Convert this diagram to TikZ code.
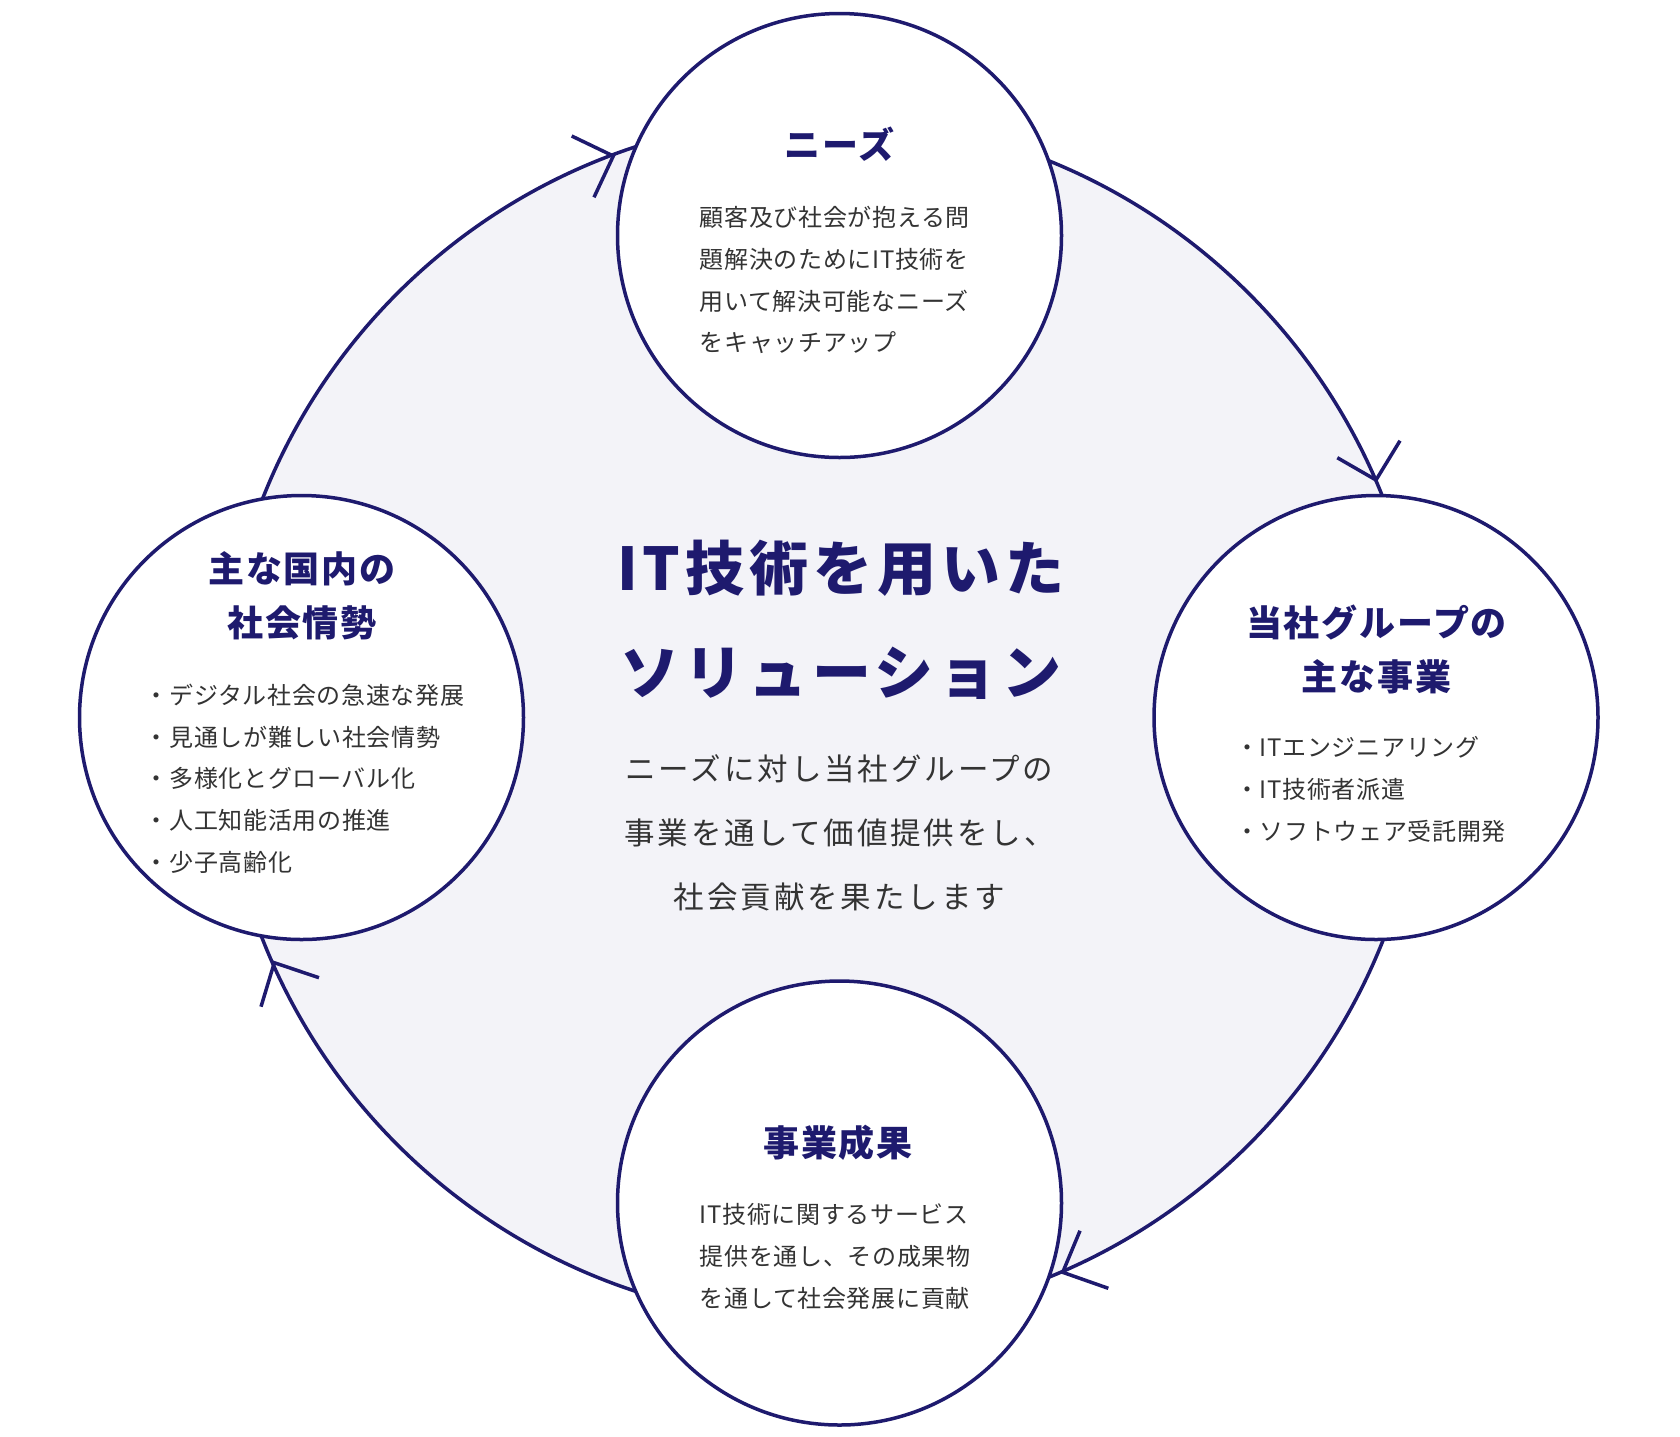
\documentclass[tikz,border=0pt]{standalone}
\usepackage{fontspec}
\setmainfont{Noto Sans CJK JP}
\definecolor{navy}{HTML}{1E1A6E}
\definecolor{ringfill}{HTML}{F3F3F8}
\definecolor{txt}{HTML}{333333}
\begin{document}
\begin{tikzpicture}[x=1pt,y=-1pt,
  bubble/.style={circle, draw=navy, line width=3.5pt, fill=white, minimum size=444pt, inner sep=0pt},
  ringstyle/.style={circle, draw=navy, line width=3.5pt, fill=ringfill, minimum size=1204pt, inner sep=0pt},
  barb/.style={draw=navy, line width=3.5pt, line join=miter},
  headA/.style={text=navy, inner sep=0pt, align=center, font=\bfseries\fontsize{36}{53.8}\selectfont\addfontfeature{LetterSpace=5}},
  bodyA/.style={text=txt, inner sep=0pt, align=left, font=\fontsize{24}{41.9}\selectfont\addfontfeature{LetterSpace=2.8}},
  bigtitle/.style={text=navy, inner sep=0pt, align=center, font=\bfseries\fontsize{59}{104}\selectfont\addfontfeature{LetterSpace=8.5}},
  subtitle/.style={text=txt, inner sep=0pt, align=center, font=\fontsize{30.5}{64}\selectfont\addfontfeature{LetterSpace=9.5}}
]
\useasboundingbox (0,0) rectangle (1680,1436);
\fill[white] (0,0) rectangle (1680,1436);

% big ring
\node[ringstyle] (ring) at (823,719) {};

% arrows on the ring
\coordinate (tipTL) at (613.3,156);
\coordinate (bTL1) at (571.7,136);
\coordinate (bTL2) at (594,197.3);
\coordinate (tipTR) at (1376,480);
\coordinate (bTR1) at (1337.3,457.7);
\coordinate (bTR2) at (1400,440.7);
\coordinate (tipBR) at (1062.7,1272.3);
\coordinate (bBR1) at (1108.3,1288.3);
\coordinate (bBR2) at (1080,1230.7);
\coordinate (tipBL) at (274.3,962.7);
\coordinate (bBL1) at (319,977.7);
\coordinate (bBL2) at (261,1006.7);
\draw[barb] (bTL1) -- (tipTL) -- (bTL2);
\draw[barb] (bTR1) -- (tipTR) -- (bTR2);
\draw[barb] (bBR1) -- (tipBR) -- (bBR2);
\draw[barb] (bBL1) -- (tipBL) -- (bBL2);

% four circles
\node[bubble] (needs) at (839.5,235.5) {};
\node[bubble] (society) at (301.5,717.5) {};
\node[bubble] (business) at (1376,717.5) {};
\node[bubble] (result) at (839.5,1203) {};

% top
\node[headA] (needsT) at (839.5,144) {ニーズ};
\node[bodyA, anchor=west] (needsB) at (699.5,280) {顧客及び社会が抱える問\\題解決のためにIT技術を\\用いて解決可能なニーズ\\をキャッチアップ};

% left
\node[headA] (societyT) at (302,595.75) {主な国内の\\社会情勢};
\node[bodyA, anchor=west] (societyB) at (144.5,778.7) {・デジタル社会の急速な発展\\・見通しが難しい社会情勢\\・多様化とグローバル化\\・人工知能活用の推進\\・少子高齢化};

% right
\node[headA] (businessT) at (1376.5,649.6) {当社グループの\\主な事業};
\node[bodyA, anchor=west] (businessB) at (1235,789.5) {・ITエンジニアリング\\・IT技術者派遣\\・ソフトウェア受託開発};

% bottom
\node[headA] (resultT) at (838,1143) {事業成果};
\node[bodyA, anchor=west] (resultB) at (699.5,1256.7) {IT技術に関するサービス\\提供を通し、その成果物\\を通して社会発展に貢献};

% centre
\node[bigtitle] (title) at (841,620) {IT技術を用いた\\ソリューション};
\node[subtitle] (sub) at (839.5,833) {ニーズに対し当社グループの\\事業を通して価値提供をし、\\社会貢献を果たします};
\end{tikzpicture}
\end{document}
